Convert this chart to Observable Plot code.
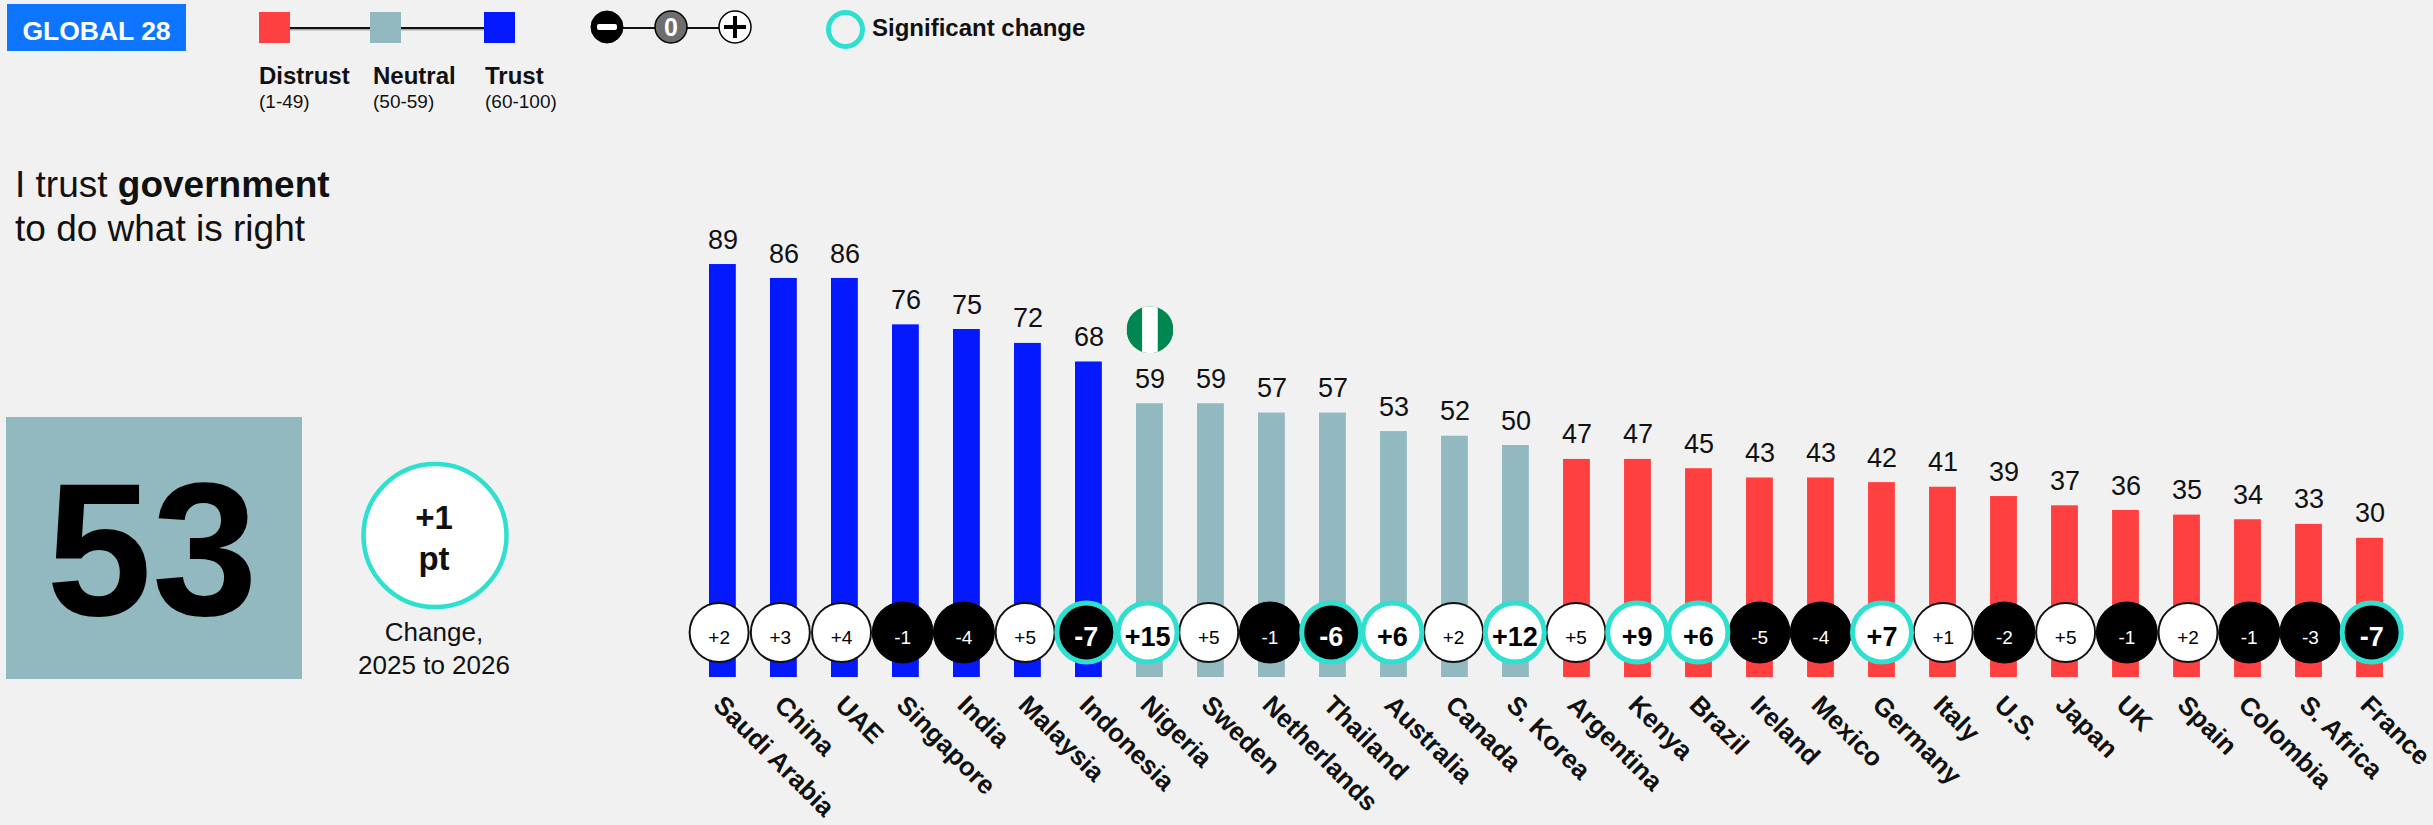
<!DOCTYPE html>
<html>
<head>
<meta charset="utf-8">
<script src="https://cdn.jsdelivr.net/npm/d3@7"></script>
<script src="https://cdn.jsdelivr.net/npm/@observablehq/plot@0.6"></script>
<style>
  html, body { margin: 0; padding: 0; background: #f1f1f1; overflow: hidden; }
  #stage { position: relative; width: 2433px; height: 825px; font-family: "Liberation Sans", Arial, sans-serif; color: #111; }
  #stage > svg { position: absolute; left: 0; top: 0; }
  #panel text { font-family: "Liberation Sans", Arial, sans-serif; }
</style>
</head>
<body>
<div id="stage">
<svg id="panel" width="2433" height="825" viewBox="0 0 2433 825">
  <rect x="7" y="4" width="179" height="47" fill="#0d75ff"/>
  <text x="96.5" y="40" text-anchor="middle" font-size="26.5" font-weight="700" fill="#fff">GLOBAL 28</text>

  <line x1="290" x2="484" y1="29.5" y2="29.5" stroke="#aaa" stroke-width="2"/>
  <line x1="290" x2="484" y1="28" y2="28" stroke="#111" stroke-width="2"/>
  <rect x="259" y="12" width="31" height="31" fill="#ff4040"/>
  <rect x="370" y="12" width="31" height="31" fill="#93b9c0"/>
  <rect x="484" y="12" width="31" height="31" fill="#0519ff"/>
  <text x="259" y="84" font-size="24" font-weight="700" fill="#111">Distrust</text>
  <text x="373" y="84" font-size="24" font-weight="700" fill="#111">Neutral</text>
  <text x="485" y="84" font-size="24" font-weight="700" fill="#111">Trust</text>
  <text x="259" y="108" font-size="19" fill="#111">(1-49)</text>
  <text x="373" y="108" font-size="19" fill="#111">(50-59)</text>
  <text x="485" y="108" font-size="19" fill="#111">(60-100)</text>

  <line x1="620" x2="722" y1="28" y2="28" stroke="#111" stroke-width="2"/>
  <circle cx="607" cy="27" r="16" fill="#000" stroke="#000" stroke-width="1"/>
  <rect x="597" y="24" width="20" height="6" rx="2" fill="#fff"/>
  <circle cx="671" cy="27" r="16" fill="#6e6e6e" stroke="#000" stroke-width="1.5"/>
  <text x="671" y="36" text-anchor="middle" font-size="25" font-weight="700" fill="#fff">0</text>
  <circle cx="735" cy="27" r="16" fill="#fff" stroke="#000" stroke-width="1.5"/>
  <path d="M724 27H746M735 16V38" stroke="#000" stroke-width="4" fill="none"/>

  <circle cx="845.5" cy="29.5" r="17" fill="none" stroke="#2ee0cf" stroke-width="5"/>
  <text x="872" y="36" font-size="24" font-weight="700" fill="#111">Significant change</text>

  <text x="15" y="197" font-size="37" fill="#111">I trust <tspan font-weight="700">government</tspan></text>
  <text x="15" y="241" font-size="37" fill="#111">to do what is right</text>

  <rect x="6" y="417" width="296" height="262" fill="#93b9c0"/>
  <text x="152" y="615" text-anchor="middle" font-size="190" font-weight="700" fill="#000">53</text>

  <circle cx="435" cy="535.5" r="71.5" fill="#fff" stroke="#2ee0cf" stroke-width="4.5"/>
  <text x="434" y="529" text-anchor="middle" font-size="33" font-weight="700" fill="#111">+1</text>
  <text x="434" y="570" text-anchor="middle" font-size="33" font-weight="700" fill="#111">pt</text>
  <text x="434" y="641" text-anchor="middle" font-size="26" fill="#111">Change,</text>
  <text x="434" y="674" text-anchor="middle" font-size="26" fill="#111">2025 to 2026</text>
</svg>
</div>
<script>
const countries = ["Saudi Arabia","China","UAE","Singapore","India","Malaysia","Indonesia","Nigeria","Sweden","Netherlands","Thailand","Australia","Canada","S. Korea","Argentina","Kenya","Brazil","Ireland","Mexico","Germany","Italy","U.S.","Japan","UK","Spain","Colombia","S. Africa","France"];
const trustValues = [89,86,86,76,75,72,68,59,59,57,57,53,52,50,47,47,45,43,43,42,41,39,37,36,35,34,33,30];
const changes = [2,3,4,-1,-4,5,-7,15,5,-1,-6,6,2,12,5,9,6,-5,-4,7,1,-2,5,-1,2,-1,-3,-7];
const significant = ["Indonesia","Nigeria","Thailand","Australia","S. Korea","Kenya","Brazil","Germany","France"];
const flagged = ["Nigeria"];

const RED = "#ff4040", NEUTRAL = "#93b9c0", BLUE = "#0519ff", TURQ = "#2ee0cf";
const flagSrc = "data:image/svg+xml," + encodeURIComponent('<svg xmlns="http://www.w3.org/2000/svg" width="48" height="48" viewBox="0 0 3 3"><rect width="3" height="3" fill="#008751"/><rect x="1" width="1" height="3" fill="#fff"/></svg>');

const rows = countries.map((country, i) => ({
  country, i, value: trustValues[i], change: changes[i],
  sig: significant.includes(country),
  ring: i * 1.0033 - 0.062,
  label: (changes[i] > 0 ? "+" : "") + changes[i]
}));
const plain = rows.filter(d => !d.sig);
const sig = rows.filter(d => d.sig);
const isUp = d => d.change > 0;

const chart = Plot.plot({
  width: 2433, height: 825,
  marginTop: 0, marginRight: 0, marginBottom: 0, marginLeft: 0,
  style: { background: "transparent", fontFamily: '"Liberation Sans", Arial, sans-serif', overflow: "visible" },
  x: { type: "linear", domain: [0, 27], range: [722.4, 2369.5], axis: null },
  y: { type: "linear", domain: [0, 100], range: [677, 213], axis: null },
  color: { type: "threshold", domain: [50, 60], range: [RED, NEUTRAL, BLUE] },
  marks: [
    Plot.rectY(rows, { x1: d => d.i - 0.22, x2: d => d.i + 0.22, y1: 0, y2: "value", fill: "value" }),
    Plot.text(rows, { x: "i", y: "value", text: d => String(d.value), dy: -24.6, fontSize: 27, fill: "#111" }),
    Plot.image(rows.filter(d => flagged.includes(d.country)), { x: "i", y: "value", dy: -74, r: 23.5, src: () => flagSrc }),
    Plot.dot(plain.filter(isUp), { x: "ring", y: 0, dy: -45, r: 29.5, fill: "#fff", stroke: "#111", strokeWidth: 2 }),
    Plot.dot(plain.filter(d => !isUp(d)), { x: "ring", y: 0, dy: -45, r: 30.5, fill: "#000", stroke: "#000", strokeWidth: 1 }),
    Plot.dot(sig.filter(isUp), { x: "ring", y: 0, dy: -45, r: 29.5, fill: "#fff", stroke: TURQ, strokeWidth: 5 }),
    Plot.dot(sig.filter(d => !isUp(d)), { x: "ring", y: 0, dy: -45, r: 29.5, fill: "#000", stroke: TURQ, strokeWidth: 5 }),
    Plot.text(plain, { x: "ring", y: 0, dy: -40, text: "label", fontSize: 19, fill: d => isUp(d) ? "black" : "white" }),
    Plot.text(sig, { x: "ring", y: 0, dy: -40.6, text: "label", fontSize: 27, fontWeight: 700, fill: d => isUp(d) ? "black" : "white" }),
    Plot.text(rows, { x: "i", y: 0, dx: -5, dy: 23, text: "country", rotate: 45, textAnchor: "start", fontSize: 26, fontWeight: 700, fill: "#111" })
  ]
});
document.getElementById("stage").appendChild(chart);
</script>
</body>
</html>
